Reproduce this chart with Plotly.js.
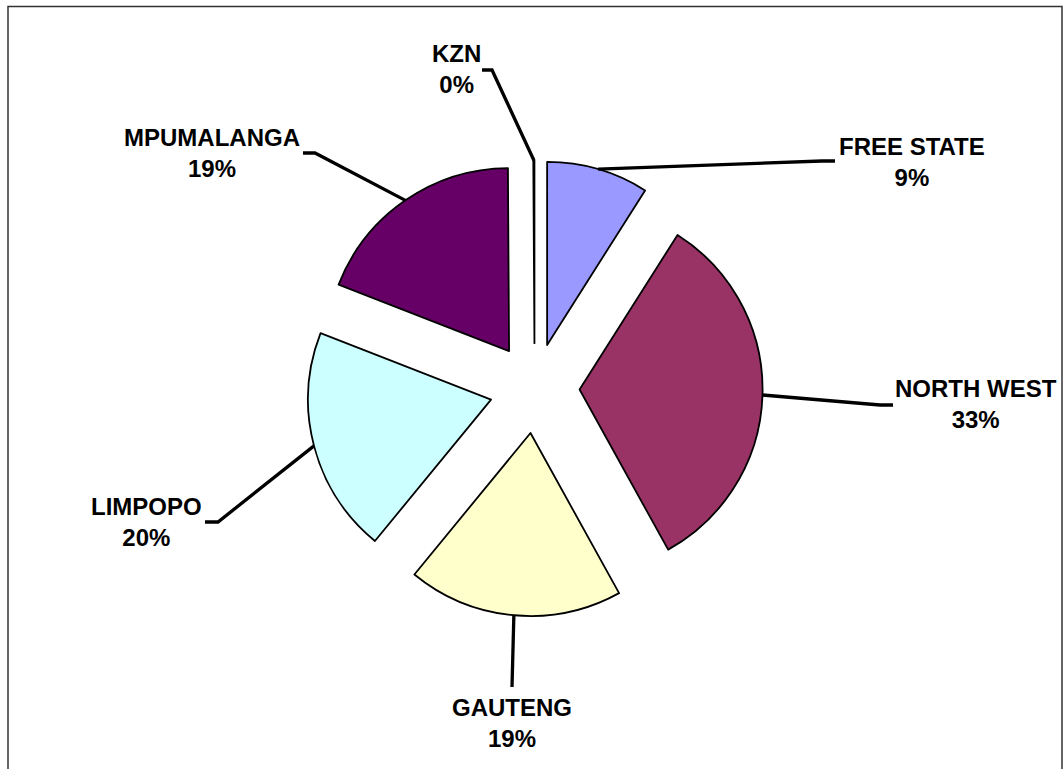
<!DOCTYPE html>
<html>
<head>
<meta charset="utf-8">
<script src="https://cdn.plot.ly/plotly-3.0.1.min.js"></script>
<style>html,body{margin:0;padding:0;background:#fff;}#chart{width:1063px;height:769px;}</style>
</head>
<body>
<div id="chart"></div>
<script>
// ---- data ----
const categories = ['FREE STATE', 'NORTH WEST', 'GAUTENG', 'LIMPOPO', 'MPUMALANGA', 'KZN'];
const values = [9, 33, 19, 20, 19, 0.1];
const sliceColors = ['#9999FF', '#993366', '#FFFFCC', '#CCFFFF', '#660066', '#FFFFFF'];

// ---- style / layout settings (pixels) ----
const W = 1063, H = 769;
const PULL = 0.246;
const DOMAIN_X = [0.2029, 0.8029];
const DOMAIN_Y = [0.1987, 0.7917];
// label block centres
const labelCentre = [[912, 162], [976, 404], [512, 723], [146, 522], [212, 153], [456, 69]];
// leader-line elbow and end points
const leaderElbow = [[822, 161], [880, 405], null, [218, 522], [315, 153], [492, 70]];
const leaderEnd = [[835, 161], [893, 405], [512, 687], [205, 522], [303, 153], [482, 70]];

const px = x => x / W;
const py = y => 1 - y / H;

// pie geometry, same rules Plotly uses
const boxW = W * (DOMAIN_X[1] - DOMAIN_X[0]);
const boxH = H * (DOMAIN_Y[1] - DOMAIN_Y[0]);
const R = Math.min(boxW, boxH) / (2 + 2 * PULL);
const CX = W * (DOMAIN_X[0] + DOMAIN_X[1]) / 2;
const CY = H * (1 - DOMAIN_Y[0]) - boxH / 2;

const total = values.reduce((a, b) => a + b, 0);
let cum = 0;
const shapes = [];
const annotations = [];
values.forEach((v, i) => {
  const midFrac = (cum + v / 2) / total;
  cum += v;
  const a = midFrac * 2 * Math.PI;
  const sx = CX + (1 + PULL) * R * Math.sin(a);
  const sy = CY - (1 + PULL) * R * Math.cos(a);
  let path = 'M' + px(sx) + ',' + py(sy);
  if (leaderElbow[i]) path += ' L' + px(leaderElbow[i][0]) + ',' + py(leaderElbow[i][1]);
  path += ' L' + px(leaderEnd[i][0]) + ',' + py(leaderEnd[i][1]);
  shapes.push({type: 'path', xref: 'paper', yref: 'paper', path: path,
    line: {color: '#000', width: 3.3}});
  const pct = Math.round(v / total * 100) + '%';
  annotations.push({xref: 'paper', yref: 'paper', x: px(labelCentre[i][0]), y: py(labelCentre[i][1]),
    xanchor: 'center', yanchor: 'middle', showarrow: false,
    text: '<b>' + categories[i] + '</b><br><b>' + pct + '</b>',
    font: {family: 'Liberation Sans, Arial, sans-serif', size: 24, color: '#000'}});
});

// outer frame
shapes.push({type: 'rect', xref: 'paper', yref: 'paper', x0: px(8), x1: px(1062), y0: -0.02, y1: py(6.5),
  line: {color: '#333', width: 1.5}, fillcolor: 'rgba(0,0,0,0)', layer: 'below'});

const trace = {
  type: 'pie',
  labels: categories,
  values: values,
  sort: false,
  direction: 'clockwise',
  rotation: 0,
  pull: values.map(() => PULL),
  marker: {colors: sliceColors, line: {color: '#000', width: 1.8}},
  textinfo: 'none',
  hoverinfo: 'label+percent',
  domain: {x: DOMAIN_X, y: DOMAIN_Y}
};

Plotly.newPlot('chart', [trace], {
  width: W, height: H,
  margin: {l: 0, r: 0, t: 0, b: 0},
  showlegend: false,
  paper_bgcolor: '#fff',
  shapes: shapes,
  annotations: annotations
}, {displayModeBar: false, staticPlot: true});
</script>
</body>
</html>
